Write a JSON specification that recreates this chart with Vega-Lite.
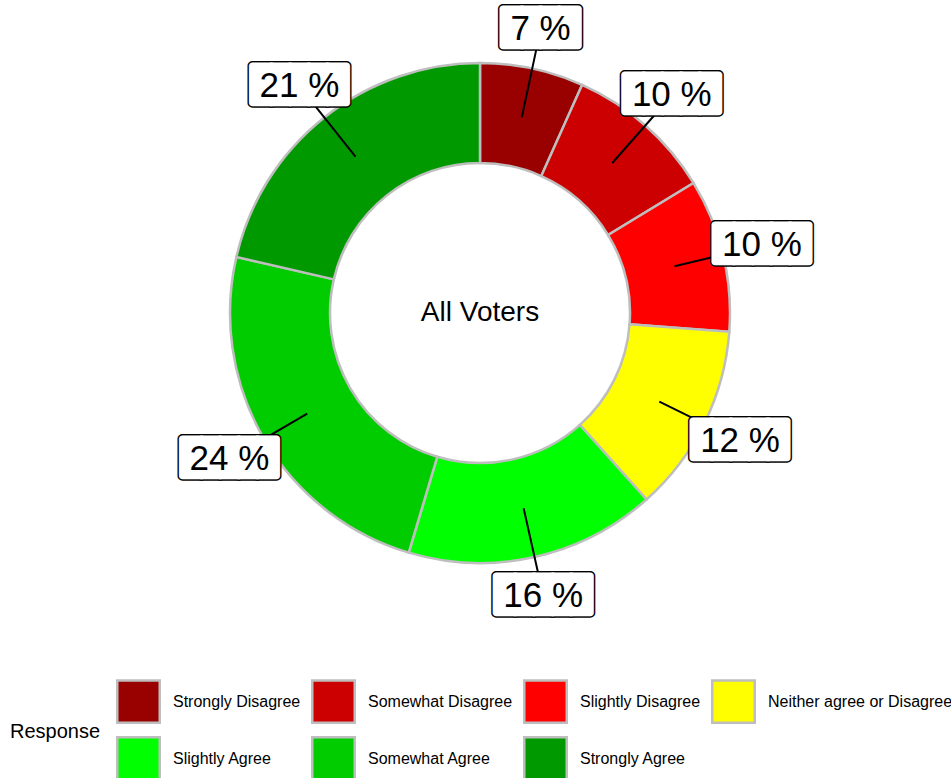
{
  "$schema": "https://vega.github.io/schema/vega-lite/v6.json",
  "width": 942,
  "height": 626,
  "autosize": {"type": "none"},
  "padding": {"left": 9, "top": 0, "right": 0, "bottom": 152},
  "background": "white",
  "config": {
    "view": {"stroke": null},
    "locale": {"number": {"decimal": ".", "thousands": ",", "grouping": [3], "currency": ["$", ""], "percent": " %"}}
  },
  "data": {
    "values": [
      {"response": "Strongly Disagree", "code": 1, "pct": 0.067},
      {"response": "Somewhat Disagree", "code": 2, "pct": 0.096},
      {"response": "Slightly Disagree", "code": 3, "pct": 0.099},
      {"response": "Neither agree or Disagree", "code": 4, "pct": 0.122},
      {"response": "Slightly Agree", "code": 5, "pct": 0.162},
      {"response": "Somewhat Agree", "code": 6, "pct": 0.240},
      {"response": "Strongly Agree", "code": 7, "pct": 0.214}
    ]
  },
  "layer": [
    {
      "mark": {"type": "arc", "outerRadius": 250, "innerRadius": 150, "stroke": "#BEBEBE", "strokeWidth": 2.5},
      "encoding": {
        "theta": {"field": "pct", "type": "quantitative", "stack": true},
        "order": {"field": "code", "type": "quantitative"},
        "color": {
          "field": "response",
          "type": "nominal",
          "sort": ["Strongly Disagree", "Somewhat Disagree", "Slightly Disagree", "Neither agree or Disagree", "Slightly Agree", "Somewhat Agree", "Strongly Agree"],
          "scale": {
            "domain": ["Strongly Disagree", "Somewhat Disagree", "Slightly Disagree", "Neither agree or Disagree", "Slightly Agree", "Somewhat Agree", "Strongly Agree"],
            "range": ["#990000", "#CC0000", "#FF0000", "#FFFF00", "#00FF00", "#00CC00", "#009900"]
          },
          "legend": {
            "title": "Response",
            "orient": "none",
            "legendX": 1,
            "legendY": 679,
            "direction": "horizontal",
            "columns": 4,
            "padding": 0,
            "titleOrient": "left",
            "titleAnchor": "middle",
            "titleBaseline": "middle",
            "titleFont": "Liberation Sans",
            "titleFontSize": 20,
            "titleFontWeight": "normal",
            "titleColor": "black",
            "titlePadding": 15,
            "symbolType": "square",
            "symbolSize": 1806,
            "symbolStrokeColor": "#BEBEBE",
            "symbolStrokeWidth": 2.5,
            "symbolOpacity": 1,
            "labelFont": "Liberation Sans",
            "labelFontSize": 16,
            "labelColor": "black",
            "labelOffset": 12,
            "labelLimit": 400,
            "columnPadding": 6,
            "rowPadding": 4
          }
        }
      }
    },
    {
      "mark": {"type": "arc", "outerRadius": 290, "innerRadius": 200, "padAngle": 3.14159, "filled": false, "stroke": "black", "strokeWidth": 2},
      "encoding": {
        "theta": {"field": "pct", "type": "quantitative", "stack": true},
        "order": {"field": "code", "type": "quantitative"},
        "detail": {"field": "response", "type": "nominal"}
      }
    },
    {
      "mark": {"type": "text", "radius": 290, "font": "DejaVu Sans Mono", "fontSize": 31, "fill": "black", "stroke": "black", "strokeWidth": 10, "strokeJoin": "round", "align": "center", "baseline": "middle"},
      "encoding": {
        "theta": {"field": "pct", "type": "quantitative", "stack": true},
        "order": {"field": "code", "type": "quantitative"},
        "detail": {"field": "response", "type": "nominal"},
        "text": {"condition": {"test": "datum.pct < 0.095", "value": "████"}, "value": "█████"}
      }
    },
    {
      "mark": {"type": "text", "radius": 290, "font": "DejaVu Sans Mono", "fontSize": 31, "fill": "white", "stroke": "white", "strokeWidth": 7, "strokeJoin": "round", "align": "center", "baseline": "middle"},
      "encoding": {
        "theta": {"field": "pct", "type": "quantitative", "stack": true},
        "order": {"field": "code", "type": "quantitative"},
        "detail": {"field": "response", "type": "nominal"},
        "text": {"condition": {"test": "datum.pct < 0.095", "value": "████"}, "value": "█████"}
      }
    },
    {
      "mark": {"type": "text", "radius": 290, "font": "Liberation Sans", "fontSize": 35, "fill": "black", "align": "center", "baseline": "middle"},
      "encoding": {
        "theta": {"field": "pct", "type": "quantitative", "stack": true},
        "order": {"field": "code", "type": "quantitative"},
        "detail": {"field": "response", "type": "nominal"},
        "text": {"field": "pct", "type": "quantitative", "format": ".0%"}
      }
    },
    {
      "data": {"values": [{"group": "All Voters"}]},
      "mark": {"type": "text", "font": "Liberation Sans", "fontSize": 28, "fill": "black", "align": "center", "baseline": "middle"},
      "encoding": {
        "text": {"field": "group", "type": "nominal"}
      }
    }
  ]
}
